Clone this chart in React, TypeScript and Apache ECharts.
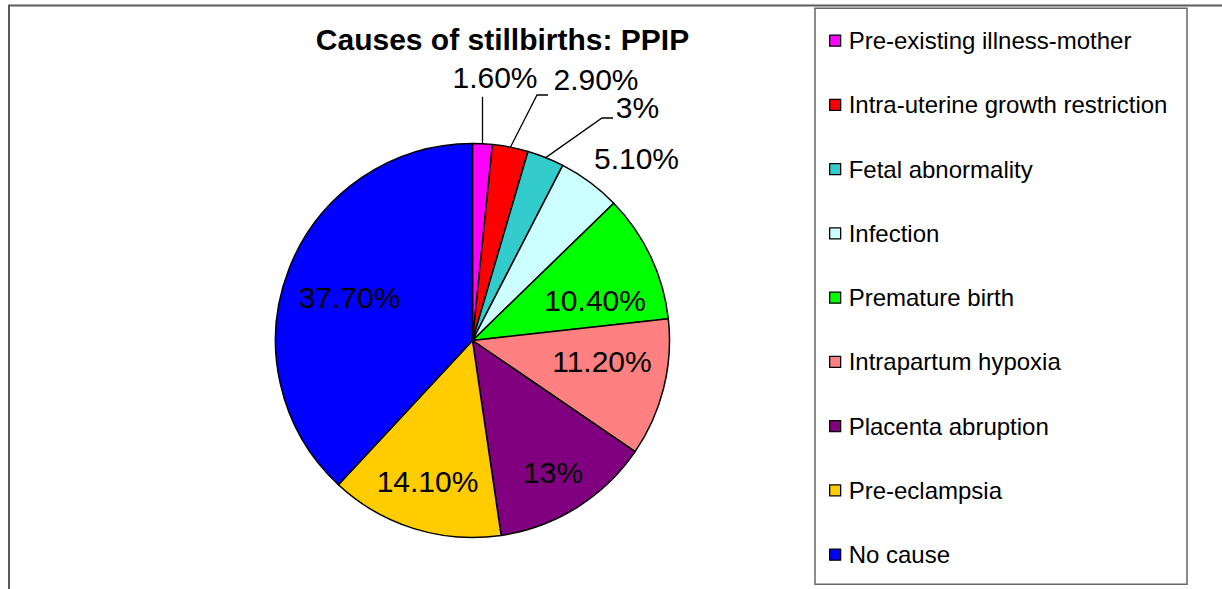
import React, { useEffect, useRef } from 'react';
import * as echarts from 'echarts';

const categories = [
  'Pre-existing illness-mother',
  'Intra-uterine growth restriction',
  'Fetal abnormality',
  'Infection',
  'Premature birth',
  'Intrapartum hypoxia',
  'Placenta abruption',
  'Pre-eclampsia',
  'No cause',
];
const values = [1.6, 2.9, 3, 5.1, 10.4, 11.2, 13, 14.1, 37.7];
const colors = ['#FF00FF', '#FF0000', '#33CCCC', '#CCFFFF', '#00FF00', '#FF8080', '#800080', '#FFCC00', '#0000FF'];
const titleText = 'Causes of stillbirths: PPIP';

const W = 1222;
const H = 589;
const CX = 472.5;
const CY = 340.5;
const R = 197;
const FONT = 'Arial, "Liberation Sans", Helvetica, sans-serif';

// label placement (layout, not data): inside -> [radius fraction, angle nudge in degrees]
const insidePlacement: Record<number, [number, number]> = {
  4: [0.654, 7.3],
  5: [0.666, -4.7],
  6: [0.787, 0.7],
  7: [0.752, 0.4],
  8: [0.662, -2],
};
// outside -> leader line offsets & label offset relative to the slice's edge anchor
const outsidePlacement: Record<number, { line: number[][]; label: [number, number] }> = {
  0: { line: [[0, -47]], label: [12.5, -66] },
  1: { line: [[26.6, -52.2], [37.6, -52.2]], label: [85.6, -67.2] },
  2: { line: [[56.3, -39.6], [67.3, -39.6]], label: [91.8, -50.6] },
  3: { line: [], label: [46.7, -23.3] },
};

function fmt(v: number) {
  return Number.isInteger(v) ? `${v}%` : `${v.toFixed(2)}%`;
}

export default function App() {
  const ref = useRef<HTMLDivElement>(null);
  useEffect(() => {
    if (!ref.current) return;
    const chart = echarts.init(ref.current, undefined, { renderer: 'svg' });
    const total = values.reduce((a, b) => a + b, 0);
    const mids: number[] = [];
    let acc = 0;
    values.forEach((v) => {
      mids.push(((acc + v / 2) / total) * 2 * Math.PI);
      acc += v;
    });
    const pt = (a: number, d: number) => [CX + d * Math.sin(a), CY - d * Math.cos(a)];

    const data = categories.map((name, i) => ({
      name,
      value: values[i],
      itemStyle: { color: colors[i] },
      label: { position: i < 4 ? 'outside' : 'inside' },
      labelLine: { show: i < 3 },
    }));

    chart.setOption({
      animation: false,
      backgroundColor: '#ffffff',
      graphic: [
        {
          type: 'polyline',
          shape: { points: [[9, H], [9, 5.5], [W, 5.5]] },
          style: { stroke: '#5a5a5a', lineWidth: 2, fill: 'none' },
          silent: true,
        },
        {
          type: 'rect',
          shape: { x: 815, y: 8.3, width: 372, height: 576 },
          style: { stroke: '#666666', lineWidth: 1.5, fill: 'none' },
          silent: true,
        },
        {
          type: 'text',
          x: 502.5,
          y: 39.5,
          style: {
            text: titleText,
            fontFamily: FONT,
            fontWeight: 'bold',
            fontSize: 30,
            fill: '#000',
            textAlign: 'center',
            textVerticalAlign: 'middle',
          },
        },
      ],
      legend: {
        orient: 'vertical',
        left: 824,
        top: 23.7,
        padding: 5,
        itemWidth: 11,
        itemHeight: 11,
        itemGap: 40.25,
        icon: 'rect',
        selectedMode: false,
        itemStyle: { borderColor: '#000', borderWidth: 1.3 },
        textStyle: {
          fontFamily: FONT,
          fontSize: 24,
          lineHeight: 24,
          color: '#000',
          padding: [0, 0, 0, 3],
        },
        data: categories,
      },
      series: [
        {
          type: 'pie',
          center: [CX, CY],
          radius: [0, R],
          startAngle: 90,
          clockwise: true,
          avoidLabelOverlap: false,
          itemStyle: { borderColor: '#000', borderWidth: 1.5 },
          emphasis: { disabled: true },
          label: {
            show: true,
            fontFamily: FONT,
            fontSize: 30,
            color: '#000',
            formatter: (p: any) => fmt(p.value),
          },
          labelLine: {
            show: true,
            lineStyle: { color: '#000', width: 1.3 },
          },
          labelLayout: (params: any) => {
            const i = params.dataIndex;
            const a = mids[i];
            if (insidePlacement[i]) {
              const [f, nudge] = insidePlacement[i];
              const [x, y] = pt(a + (nudge * Math.PI) / 180, f * R);
              return { x, y, align: 'center', verticalAlign: 'middle' };
            }
            const o = outsidePlacement[i];
            const anchor = pt(a, R);
            const res: any = {
              x: anchor[0] + o.label[0],
              y: anchor[1] + o.label[1],
              align: 'center',
              verticalAlign: 'middle',
            };
            if (o.line.length) {
              res.labelLinePoints = [anchor, ...o.line.map(([dx, dy]) => [anchor[0] + dx, anchor[1] + dy])];
            }
            return res;
          },
          data,
        },
      ],
    });
    return () => chart.dispose();
  }, []);
  return (
    <div
      ref={ref}
      style={{ position: 'fixed', left: 0, top: 0, width: W, height: H, background: '#fff' }}
    />
  );
}
